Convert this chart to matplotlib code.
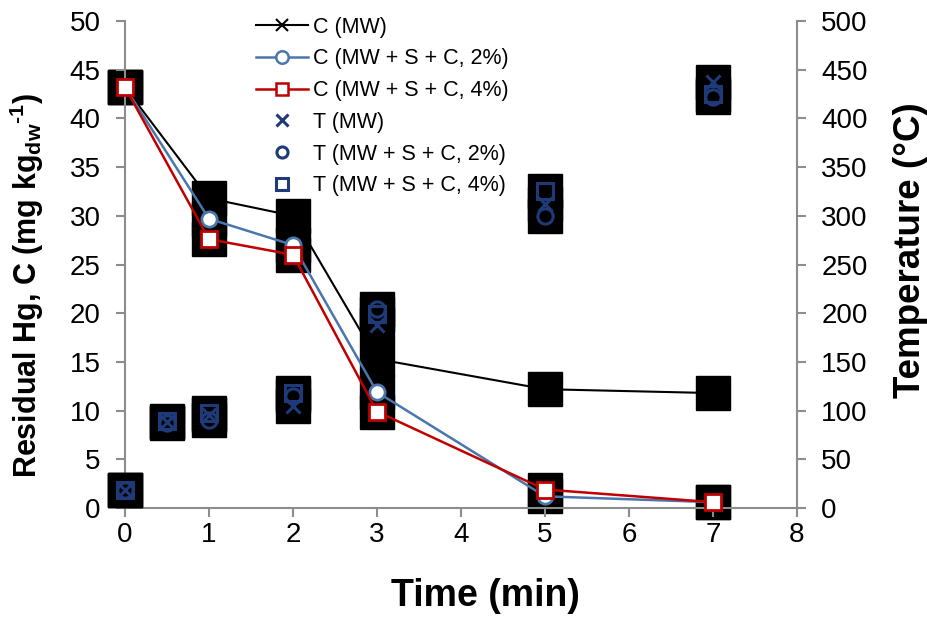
import matplotlib
matplotlib.use("Agg")
import matplotlib.pyplot as plt
from matplotlib.lines import Line2D

plt.rcParams['font.family'] = ['Liberation Sans', 'DejaVu Sans']
plt.rcParams['mathtext.fontset'] = 'custom'
plt.rcParams['mathtext.rm'] = 'Liberation Sans:bold'
plt.rcParams['mathtext.it'] = 'Liberation Sans:bold'
plt.rcParams['mathtext.bf'] = 'Liberation Sans:bold'

# ---- Data ----
time = [0, 1, 2, 3, 5, 7]
c_mw = [43.2, 31.8, 30.0, 15.3, 12.2, 11.8]
c_2 = [43.2, 29.7, 27.0, 11.9, 1.2, 0.6]
c_4 = [43.2, 27.6, 26.0, 9.9, 1.9, 0.6]

time_t = [0, 0.5, 1, 2, 3, 5, 7]
t_mw = [19, 88, 95, 105, 188, 312, 437]
t_2 = [19, 87, 90, 115, 204, 300, 422]
t_4 = [19, 89, 98, 118, 199, 325, 425]

grey = '#8c8c8c'
navy = '#1f3a78'
blue = '#4a76ab'
red = '#c00000'
box = 23.8  # size of the black squares behind each point

fig = plt.figure(figsize=(9.28, 6.19), dpi=100)
ax = fig.add_axes([0.1347, 0.1793, 0.7241, 0.7867])
ax2 = ax.twinx()

# black squares behind every point
for ys in (c_mw, c_2, c_4):
    ax.plot(time, ys, 's', color='black', markersize=box, zorder=1, clip_on=False)
for ys in (t_mw, t_2, t_4):
    ax2.plot(time_t, ys, 's', color='black', markersize=box, zorder=1, clip_on=False)

ax.plot(time, c_mw, '-x', color='black', lw=1.5, markersize=8, mew=1.5, zorder=2, clip_on=False)
ax.plot(time, c_2, '-o', color=blue, lw=1.8, markersize=11, mfc='white', mec=blue, mew=2,
        zorder=3, clip_on=False)
ax.plot(time, c_4, '-s', color=red, lw=1.8, markersize=11, mfc='white', mec=red, mew=2,
        zorder=4, clip_on=False)

ax2.plot(time_t, t_mw, 'x', color=navy, markersize=10, mew=2.2, zorder=2, clip_on=False)
ax2.plot(time_t, t_2, 'o', color=navy, markersize=11, mfc='none', mec=navy, mew=2.2,
         zorder=2, clip_on=False)
ax2.plot(time_t, t_4, 's', color=navy, markersize=11, mfc='none', mec=navy, mew=2.2,
         zorder=2, clip_on=False)

ax.set_xlim(0, 8)
ax.set_ylim(0, 50)
ax2.set_ylim(0, 500)
ax.set_xticks(range(0, 9))
ax.set_yticks(range(0, 51, 5))
ax2.set_yticks(range(0, 501, 50))

for a in (ax, ax2):
    a.spines['top'].set_visible(False)
    for s in a.spines.values():
        s.set_color(grey)
        s.set_linewidth(1.5)
    a.tick_params(colors=grey, labelcolor='black', labelsize=20, width=1.5, length=6.5)
ax.tick_params(axis='y', pad=11)
ax2.tick_params(axis='y', pad=11)
ax2.spines['left'].set_visible(False)
ax2.spines['bottom'].set_visible(False)
ax.spines['right'].set_visible(False)
ax.set_facecolor('none')

ax.set_xlabel('Time (min)', fontsize=27, fontweight='bold')
ax.xaxis.set_label_coords(0.536, -0.144)
ax.set_ylabel(r'Residual Hg, C (mg kg$_{dw}$$^{\text{-1}}$)', fontsize=22, fontweight='bold')
ax.yaxis.set_label_coords(-0.117, 0.458)
ax2.set_ylabel('Temperature (°C)', fontsize=26.5, fontweight='bold')
ax2.yaxis.set_label_coords(1.143, 0.53)

handles = [
    Line2D([], [], color='black', marker='x', lw=1.5, markersize=8, mew=1.5),
    Line2D([], [], color=blue, marker='o', lw=1.8, markersize=9, mfc='white', mec=blue, mew=1.8),
    Line2D([], [], color=red, marker='s', lw=1.8, markersize=9, mfc='white', mec=red, mew=1.8),
    Line2D([], [], color=navy, marker='x', ls='none', markersize=8, mew=2.2),
    Line2D([], [], color=navy, marker='o', ls='none', markersize=8, mfc='none', mec=navy, mew=2.2),
    Line2D([], [], color=navy, marker='s', ls='none', markersize=8, mfc='none', mec=navy, mew=2.2),
]
labels = ['C (MW)', 'C (MW + S + C, 2%)', 'C (MW + S + C, 4%)',
          'T (MW)', 'T (MW + S + C, 2%)', 'T (MW + S + C, 4%)']
ax2.legend(handles, labels, loc='upper left', bbox_to_anchor=(0.195, 1.009), frameon=False,
           fontsize=15.5, handlelength=2.4, handletextpad=0.23, labelspacing=0.5,
           borderpad=0, borderaxespad=0)

fig.savefig('out.png', dpi=100)
